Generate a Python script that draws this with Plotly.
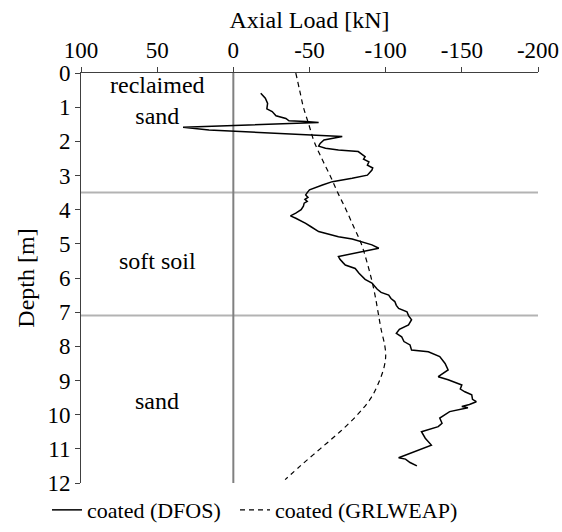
import plotly.graph_objects as go

# DFOS measured axial load profile
dfos_depth = [0.59, 0.74, 0.89, 1.05, 1.13, 1.25, 1.33, 1.40, 1.42, 1.45,
              1.59, 1.62, 1.64, 1.67, 1.86, 1.96, 2.06, 2.14, 2.20, 2.25,
              2.30, 2.45, 2.52, 2.60, 2.70, 2.78, 2.84, 2.99, 3.08, 3.18,
              3.28, 3.42, 3.50, 3.57, 3.64, 3.70, 3.76, 3.81, 3.90, 4.00,
              4.10, 4.18, 4.25, 4.33, 4.40, 4.50, 4.64, 4.79, 4.86, 5.03,
              5.13, 5.37, 5.45, 5.55, 5.62, 5.72, 5.86, 6.04, 6.15, 6.33,
              6.42, 6.50, 6.60, 6.69, 6.80, 6.89, 6.99, 7.10, 7.22, 7.37,
              7.50, 7.62, 7.72, 7.86, 7.96, 8.11, 8.16, 8.30, 8.50, 8.69,
              8.89, 8.98, 9.13, 9.25, 9.33, 9.42, 9.55, 9.62, 9.70, 9.76,
              9.80, 9.91, 10.10, 10.25, 10.35, 10.50, 10.69, 10.89, 11.08,
              11.26, 11.30, 11.40, 11.50]
dfos_load = [-18, -21, -22.5, -22, -25.5, -28, -34.5, -36.5, -47.5, -56,
             33, 26, 18, 16, -71.5, -59.5, -57, -56, -60.5, -69,
             -82, -86.5, -85.5, -89, -88, -91.5, -91, -88, -78, -65,
             -58.5, -50, -48.5, -47.5, -49, -47, -48.5, -46.5, -46, -44.5,
             -41, -37.5, -41, -45, -47.5, -51, -56, -69, -78, -91,
             -95.5, -69, -70, -72, -73.5, -80, -82.5, -86.5, -91, -94.5,
             -97, -102, -103.5, -106, -107, -108.5, -114, -115, -117, -115,
             -109, -107, -110.5, -112, -116, -117, -128, -135.5, -139, -141,
             -134.5, -141, -150, -149, -152, -156.5, -157, -159.5, -155, -150,
             -154, -142, -135.5, -137, -134.5, -123.5, -126, -130, -119.5,
             -108.5, -113, -116, -120.5]

# GRLWEAP computed axial load profile
grl_depth = [0, 0.5, 1, 1.5, 2, 2.5, 3, 3.5, 4, 4.5, 5, 5.5, 6, 6.5, 7,
             7.5, 8, 8.3, 8.6, 9, 9.5, 10, 10.5, 11, 11.5, 11.9]
grl_load = [-41, -43.5, -46, -49.5, -53, -58, -63.5, -68.5, -74, -79, -84,
            -87.5, -90.5, -93, -95, -97, -99.5, -100, -99, -96, -90.5, -81.5,
            -70, -57, -44, -34]

# layer boundaries and labels
layer_bounds = [3.5, 7.1]
layer_labels = ["reclaimed<br>sand", "soft soil", "sand"]
layer_label_depth = [0.8, 5.5, 9.6]
label_x = 50

x_ticks = [100, 50, 0, -50, -100, -150, -200]
y_ticks = list(range(0, 13))

FONT = "Liberation Serif"
PW = 457  # plot-area width in px

fig = go.Figure()
fig.add_trace(go.Scatter(x=dfos_load, y=dfos_depth, mode="lines",
                         name="coated (DFOS)", legend="legend",
                         line=dict(color="black", width=1.5)))
fig.add_trace(go.Scatter(x=grl_load, y=grl_depth, mode="lines",
                         name="coated (GRLWEAP)", line_shape="spline",
                         legend="legend2",
                         line=dict(color="black", width=1.2, dash="5px,4px")))

for b in layer_bounds:
    fig.add_shape(type="line", xref="paper", x0=0, x1=1, yref="y", y0=b, y1=b,
                  line=dict(color="#b3b3b3", width=2), layer="below")
fig.add_shape(type="line", xref="x", x0=0, x1=0, yref="paper", y0=0, y1=1,
              line=dict(color="#808080", width=2), layer="below")

for t, d in zip(layer_labels, layer_label_depth):
    fig.add_annotation(x=label_x, y=d, text=t, showarrow=False,
                       font=dict(family=FONT, size=24, color="black"))

leg_common = dict(orientation="h", xanchor="left", yanchor="middle",
                  y=-0.066, font=dict(family=FONT, size=22),
                  bgcolor="rgba(0,0,0,0)")
fig.update_layout(
    width=562, height=532,
    margin=dict(l=81, r=24, t=73, b=49, autoexpand=False),
    paper_bgcolor="white", plot_bgcolor="white",
    font=dict(family=FONT, size=23, color="black"),
    showlegend=True,
    legend=dict(x=(47 - 81) / PW, **leg_common),
    legend2=dict(x=(235 - 81) / PW, **leg_common),
)
fig.update_xaxes(side="top", range=[100, -200], tickvals=x_ticks,
                 ticktext=[str(v) for v in x_ticks], tickangle=0,
                 ticks="outside", ticklen=5, tickcolor="#404040",
                 tickfont=dict(family=FONT, size=23),
                 showline=True, linecolor="#404040", linewidth=1,
                 showgrid=False, zeroline=False,
                 title=dict(text="Axial Load [kN]", standoff=2,
                            font=dict(family=FONT, size=24)))
fig.update_yaxes(range=[12, 0], tickvals=y_ticks,
                 ticks="outside", ticklen=5, tickcolor="#404040",
                 tickfont=dict(family=FONT, size=23),
                 showline=True, linecolor="#404040", linewidth=1,
                 showgrid=False, zeroline=False,
                 title=dict(text="Depth [m]", standoff=6,
                            font=dict(family=FONT, size=24)))

fig.write_html("out.html",
               config={"displayModeBar": False},
               post_script="document.body.style.margin='0';"
                           "document.body.style.overflow='hidden';")
